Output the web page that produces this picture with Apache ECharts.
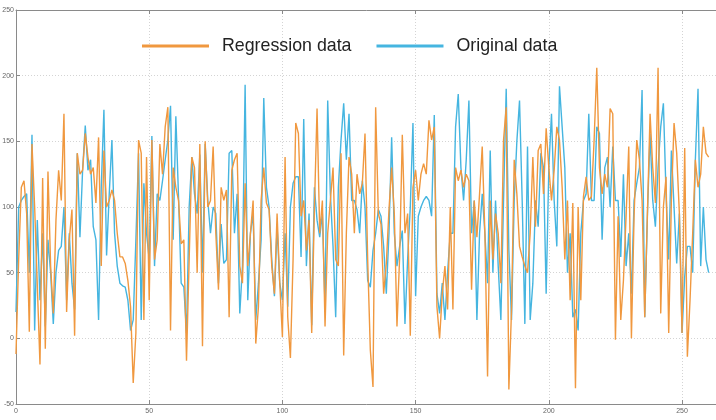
<!DOCTYPE html>
<html>
<head>
<meta charset="utf-8">
<script src="https://cdn.jsdelivr.net/npm/echarts@6/dist/echarts.min.js"></script>
<style>html,body{margin:0;padding:0;background:#fff}#c{width:716px;height:420px}</style>
</head>
<body>
<div id="c"></div>
<script>
const seriesNames = ["Regression data", "Original data"];
const xTicks = [0, 50, 100, 150, 200, 250];
const yTicks = [-50, 0, 50, 100, 150, 200, 250];

const regressionData = [
-12,60,115,120,95,5,148,100,40,-20,
122,-8,127,55,19,90,128,105,171,20,
75,98,2,141,125,128,156,138,125,130,
103,153,55,143,100,105,113,105,80,62,
62,57,44,24,-34,4,151,141,14,138,
29,151,60,75,148,125,161,176,6,130,
115,105,72,75,-17,60,138,130,50,148,
-6,150,100,105,146,80,37,115,105,113,
16,128,136,141,55,42,118,55,80,105,
-4,24,105,130,103,98,55,34,95,42,
1,138,16,-15,60,164,156,93,105,67,
90,4,98,175,80,105,9,80,105,130,
60,55,141,-13,80,138,125,80,125,110,
118,156,60,-9,-37,176,95,87,34,57,
98,130,95,9,62,155,80,95,2,115,
128,105,125,133,125,166,151,161,24,0,
34,55,22,100,22,130,120,128,115,125,
120,37,105,77,110,146,80,-29,105,60,
95,80,42,151,176,-39,22,136,110,70,
62,55,50,80,138,85,143,148,110,160,
130,105,128,161,151,115,60,105,29,103,
-38,100,29,108,123,105,108,151,206,130,
110,125,115,175,171,-1,93,14,44,93,
146,0,93,151,136,105,16,95,171,130,
103,206,19,100,123,4,105,164,141,95,
4,145,-14,29,80,136,115,125,161,141,
138
];

const originalData = [
20,100,105,108,110,50,155,6,90,29,
80,9,75,50,11,50,67,70,100,29,
80,42,22,141,77,128,162,128,136,85,
75,14,115,174,63,110,151,80,55,42,
40,39,29,6,14,75,141,14,118,80,
60,154,55,110,105,120,136,151,177,75,
169,108,42,39,4,100,138,110,95,140,
50,148,105,80,100,95,42,87,57,60,
141,143,80,110,19,55,193,29,80,95,
14,42,75,183,115,100,60,32,85,42,
29,80,24,100,118,123,123,62,167,55,
95,10,115,90,77,95,24,181,110,70,
16,115,151,179,136,171,105,105,98,80,
120,100,44,39,67,80,98,93,70,34,
80,153,80,55,70,82,11,60,100,164,
32,93,100,105,108,105,93,170,34,19,
42,14,50,80,80,161,186,130,105,136,
181,80,105,14,80,110,80,42,143,50,
105,55,14,105,190,67,14,105,150,181,
105,11,146,14,42,105,85,141,130,34,
130,171,105,70,192,161,130,50,80,16,
22,6,80,105,110,171,105,105,161,156,
75,130,138,100,146,105,105,62,125,55,
80,34,105,118,130,189,16,93,156,105,
85,130,161,179,110,60,143,100,57,95,
4,47,70,70,50,136,190,55,100,60,
50
];

const toPairs = arr => arr.map((v, i) => [i, v]);
const ORANGE = '#F0983F';
const BLUE = '#45B5E0';
const AXIS = '#8a8a8a';

const chart = echarts.init(document.getElementById('c'), null, {renderer: 'canvas'});
const labelStyle = {fontSize: 7, color: '#666', fontFamily: 'Liberation Sans'};
chart.setOption({
  animation: false,
  backgroundColor: '#fff',
  grid: {left: 16, top: 10, bottom: 16, right: -6, outerBoundsMode: 'none', containLabel: false},
  legend: {
    left: 137, top: 32,
    data: seriesNames,
    icon: 'rect', itemWidth: 67, itemHeight: 3, itemGap: 25,
    textStyle: {fontSize: 17.8, color: '#222', fontFamily: 'Liberation Sans', padding: [0, 0, 0, 8]}
  },
  xAxis: [{
    type: 'value', min: 0, max: 265, interval: 50,
    axisLine: {show: true, onZero: false, lineStyle: {color: AXIS, width: 1}},
    axisTick: {show: true, inside: true, length: 4, lineStyle: {color: AXIS}},
    axisLabel: {...labelStyle, margin: 4, showMaxLabel: false,
      formatter: v => xTicks.includes(v) ? String(v) : ''},
    splitLine: {show: true, lineStyle: {color: '#d4d4d4', type: [1, 2]}}
  }, {
    type: 'value', position: 'top', min: 0, max: 265, interval: 50,
    axisLine: {show: true, onZero: false, lineStyle: {color: AXIS, width: 1}},
    axisTick: {show: true, inside: true, length: 4, lineStyle: {color: AXIS}},
    axisLabel: {show: false}, splitLine: {show: false}
  }],
  yAxis: {
    type: 'value', min: -50, max: 250, interval: 50,
    axisLine: {show: true, onZero: false, lineStyle: {color: AXIS, width: 1}},
    axisTick: {show: true, inside: true, length: 4, lineStyle: {color: AXIS}},
    axisLabel: {...labelStyle, margin: 2, formatter: v => yTicks.includes(v) ? String(v) : ''},
    splitLine: {show: true, lineStyle: {color: '#d4d4d4', type: [1, 2]}}
  },
  series: [
    {name: seriesNames[1], type: 'line', data: toPairs(originalData), symbol: 'none',
     lineStyle: {color: BLUE, width: 1.4}, itemStyle: {color: BLUE}, z: 2},
    {name: seriesNames[0], type: 'line', data: toPairs(regressionData), symbol: 'none',
     lineStyle: {color: ORANGE, width: 1.4}, itemStyle: {color: ORANGE}, z: 3}
  ]
});
</script>
</body>
</html>
